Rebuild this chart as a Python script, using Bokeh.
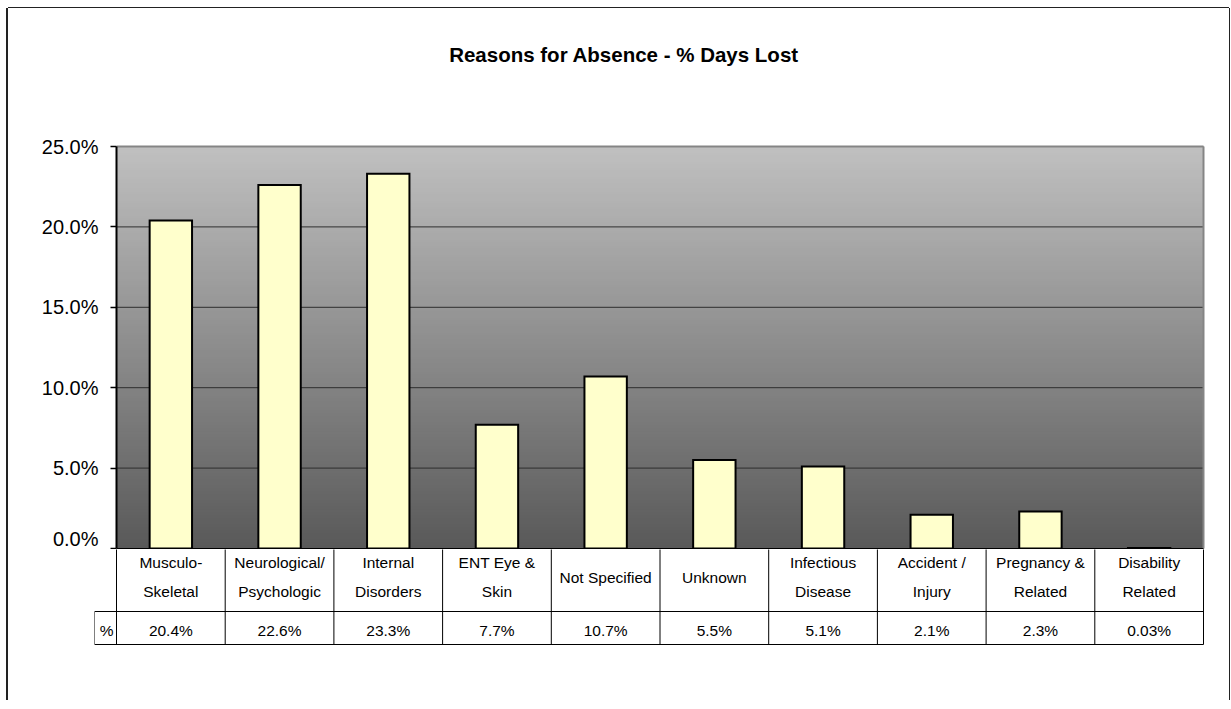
from bokeh.plotting import figure
from bokeh.layouts import column
from bokeh.models import Range1d, FixedTicker, NumeralTickFormatter, Label
from bokeh.core.properties import value
from bokeh.embed import file_html
from bokeh.resources import INLINE

# ---------------- data ----------------
title_text = "Reasons for Absence - % Days Lost"
categories = ["Musculo-\nSkeletal", "Neurological/\nPsychologic", "Internal\nDisorders",
              "ENT Eye &\nSkin", "Not Specified", "Unknown", "Infectious\nDisease",
              "Accident /\nInjury", "Pregnancy &\nRelated", "Disability\nRelated"]
pct_days_lost = [20.4, 22.6, 23.3, 7.7, 10.7, 5.5, 5.1, 2.1, 2.3, 0.03]
row_header = "%"
y_ticks = [0.0, 0.05, 0.10, 0.15, 0.20, 0.25]

# ---------------- layout constants ----------------
FONT = "Liberation Sans"
W = 1221
PX = 108.7                 # px per category
YPP = 0.25 / 402.0         # data units per px (top figure)
n = len(categories)
xs = list(range(n))
fractions = [v / 100.0 for v in pct_days_lost]
value_labels = [f"{v:g}%" for v in pct_days_lost]

x_end = -0.5 + 1091 / PX

# ---------------- top figure (chart) ----------------
H1 = 541
TOPB = 20   # canvas px above frame
p = figure(width=W, height=H1, output_backend="svg", toolbar_location=None,
           x_range=Range1d(-0.5, x_end),
           y_range=Range1d(-1 * YPP, 0.25 + (138 - TOPB) * YPP),
           x_axis_location=None, min_border_left=108, min_border_right=22,
           min_border_top=TOPB, min_border_bottom=0, frame_align=False)
p.outline_line_color = None
p.background_fill_color = "white"
p.border_fill_color = "white"
p.xgrid.visible = False
p.ygrid.visible = False

# gradient background of the plot area (overlapping bands, no seams)
N = 134
ymax = y_ticks[-1]
bot, cols = [], []
for i in range(N):
    y0 = ymax * i / N
    t = (i + 0.5) / N
    g = int(round(89 + (192 - 89) * t))
    bot.append(y0)
    cols.append(f"#{g:02x}{g:02x}{g:02x}")
p.quad(left=-0.5, right=n - 0.5, bottom=bot, top=ymax, fill_color=cols, line_color=None)

# gridlines
inner = y_ticks[1:-1]
p.segment(x0=-0.5, x1=n - 0.5, y0=inner, y1=inner, line_color="#2e2e2e", line_width=1)
p.segment(x0=-0.5, x1=n - 0.5, y0=y_ticks[-1], y1=y_ticks[-1], line_color="#858585", line_width=2)
p.segment(x0=n - 0.5, x1=n - 0.5, y0=y_ticks[0], y1=y_ticks[-1], line_color="#858585", line_width=2)

# bars
p.vbar(x=xs, top=fractions, bottom=0, width=0.39, fill_color="#FFFFCC",
       line_color="black", line_width=2, line_join="miter")

# base line
p.segment(x0=-0.5, x1=n - 0.5, y0=y_ticks[0], y1=y_ticks[0], line_color="black", line_width=1)

# y axis
ax = p.yaxis[0]
ax.ticker = FixedTicker(ticks=y_ticks)
ax.formatter = NumeralTickFormatter(format="0.0%")
ax.bounds = (y_ticks[0], y_ticks[-1])
ax.axis_line_color = "black"
ax.axis_line_width = 2
ax.major_tick_out = 6
ax.major_tick_in = 0
ax.major_tick_line_color = "black"
ax.major_tick_line_width = 1.5
ax.minor_tick_line_color = None
ax.major_label_text_font = FONT
ax.major_label_text_font_size = "20px"
ax.major_label_text_color = "black"
ax.major_label_standoff = 12

# title
p.add_layout(Label(x=-0.5 + (623.5 - 116) / PX, y=0.25 + (146 - 54) * YPP,
                   text=title_text, text_align="center", text_baseline="middle",
                   text_font=FONT, text_font_size="20.5px", text_font_style="bold",
                   text_color="black"))

# ---------------- bottom figure (data table) ----------------
H2 = 151
x_left = -0.5 - 22 / PX
q = figure(width=W, height=H2, output_backend="svg", toolbar_location=None,
           x_range=Range1d(x_left, x_end), y_range=Range1d(-101, -1),
           x_axis_location=None, y_axis_location=None,
           min_border_left=86, min_border_right=22, min_border_top=0, min_border_bottom=51,
           frame_align=False)
q.outline_line_color = None
q.background_fill_color = "white"
q.border_fill_color = "white"
q.xgrid.visible = False
q.ygrid.visible = False

r1 = -63   # bottom of category row
r2 = -96   # bottom of value row
bounds = [k - 0.5 for k in range(n + 1)]
q.segment(x0=bounds, x1=bounds, y0=2, y1=r2, line_color="black", line_width=1)
q.segment(x0=[x_left, x_left], x1=[n - 0.5, n - 0.5], y0=[r1, r2], y1=[r1, r2],
          line_color="black", line_width=1)
q.segment(x0=x_left, x1=x_left, y0=r1, y1=r2, line_color="black", line_width=1)

q.text(x=xs, y=-28.5, text=categories, text_align="center", text_baseline="middle",
       text_font=value(FONT), text_font_size="15.5px", text_line_height=1.75,
       text_color="black")
q.text(x=xs, y=-81.5, text=value_labels, text_align="center", text_baseline="middle",
       text_font=value(FONT), text_font_size="15.5px", text_color="black")
q.text(x=[(x_left - 0.5) / 2 + 0.01], y=-81.5, text=[row_header], text_align="center",
       text_baseline="middle", text_font=value(FONT), text_font_size="15.5px",
       text_color="black")

layout = column(p, q, spacing=0, margin=(8, 0, 0, 8),
                styles={"box-shadow": "-2px 0 0 0 #222, 1px 0 0 0 #222, 0 -1px 0 0 #222"})

open("out.html", "w").write(file_html(layout, INLINE))
